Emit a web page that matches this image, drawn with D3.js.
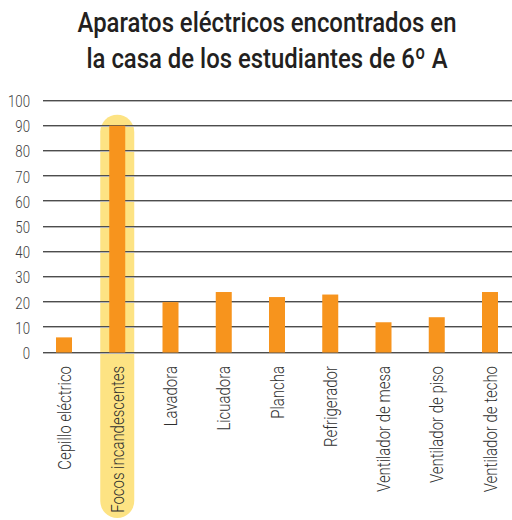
<!DOCTYPE html>
<html>
<head>
<meta charset="utf-8">
<script src="https://cdn.jsdelivr.net/npm/d3@7/dist/d3.min.js"></script>
<style>
  html, body { margin: 0; padding: 0; background: #fff; }
  svg { display: block; }
  text { font-family: "Roboto", "Noto Sans", sans-serif; }
</style>
</head>
<body>
<svg id="chart" width="512" height="520"></svg>
<script>
// Appliances found in the homes of the 6th-grade A students
const categories = [
  "Cepillo eléctrico", "Focos incandescentes", "Lavadora", "Licuadora",
  "Plancha", "Refrigerador", "Ventilador de mesa", "Ventilador de piso",
  "Ventilador de techo"
];
const counts = [6, 90, 20, 24, 22, 23, 12, 14, 24];
const yTicks = [0, 10, 20, 30, 40, 50, 60, 70, 80, 90, 100];
const titleLines = ["Aparatos eléctricos encontrados en", "la casa de los estudiantes de 6º A"];
const highlighted = "Focos incandescentes";

const svg = d3.select("#chart");

const x = d3.scalePoint().domain(categories).range([64, 490]);
const y = d3.scaleLinear().domain([0, 100]).range([352.5, 100.5]);
const barW = 16;

// Horizontal squeeze for a condensed look: factor so that the widest
// string of a group spans the wanted width.
function squeeze(sel, wanted) {
  let w = 0;
  sel.each(function () { w = Math.max(w, this.getComputedTextLength()); });
  return w > 0 ? wanted / w : 1;
}

// Title
const title = svg.append("g").selectAll("text").data(titleLines).join("text")
  .attr("text-anchor", "middle")
  .attr("font-size", 28.5)
  .attr("font-weight", 500)
  .attr("fill", "#231f20")
  .text(d => d);
const ts = squeeze(title.filter((d, i) => i === 0), 379);
title.attr("transform", (d, i) => `translate(267,${32 + i * 36}) scale(${ts},1)`);

// Highlight band behind the emphasised category
const hx = x(highlighted);
const hTop = y(90) - 11;
svg.append("rect")
  .attr("x", hx - 17).attr("y", hTop)
  .attr("width", 34).attr("height", 518 - hTop)
  .attr("rx", 17).attr("ry", 17)
  .attr("fill", "#fde383");

// Gridlines
const grid = svg.append("g");
grid.selectAll("line.dark").data(yTicks).join("line")
  .attr("class", "dark")
  .attr("x1", 43).attr("x2", 512)
  .attr("y1", d => Math.round(y(d)) - 0.5).attr("y2", d => Math.round(y(d)) - 0.5)
  .attr("stroke", "#4d4d4d").attr("stroke-width", 1);
grid.selectAll("line.light").data(yTicks).join("line")
  .attr("class", "light")
  .attr("x1", 43).attr("x2", 512)
  .attr("y1", d => Math.round(y(d)) + 0.5).attr("y2", d => Math.round(y(d)) + 0.5)
  .attr("stroke", "#b5b5b5").attr("stroke-width", 1);

// Y axis labels
const yAxis = d3.axisLeft(y).tickValues(yTicks).tickSize(0).tickPadding(0);
const yg = svg.append("g").attr("transform", "translate(30,0)").call(yAxis);
yg.select(".domain").remove();
const yText = yg.selectAll("text")
  .attr("font-size", 17)
  .attr("font-weight", 300)
  .attr("fill", "#3d3d3d")
  .attr("font-family", null)
  .attr("x", 0)
  .attr("dy", "0.35em");
const ys = squeeze(yText.filter(d => d === 100), 22);
yText.attr("transform", `scale(${ys},1)`);

// Bars
svg.append("g").selectAll("rect").data(categories).join("rect")
  .attr("x", d => x(d) - barW / 2)
  .attr("y", (d, i) => y(counts[i]))
  .attr("width", barW)
  .attr("height", (d, i) => y(0) - y(counts[i]))
  .attr("fill", "#f7941d");

// Category labels (rotated)
const xAxis = d3.axisBottom(x).tickSize(0).tickPadding(0);
const xg = svg.append("g").attr("transform", "translate(0,366)").call(xAxis);
xg.select(".domain").remove();
const xText = xg.selectAll("text")
  .attr("font-size", 17.5)
  .attr("font-weight", 300)
  .attr("fill", "#2f2f2f")
  .attr("font-family", null)
  .attr("text-anchor", "end")
  .attr("x", 0)
  .attr("y", 0)
  .attr("dy", "0.35em");
const xs = squeeze(xText.filter(d => d === highlighted), 147);
xText.attr("transform", `rotate(-90) scale(${xs},1)`);
</script>
</body>
</html>
